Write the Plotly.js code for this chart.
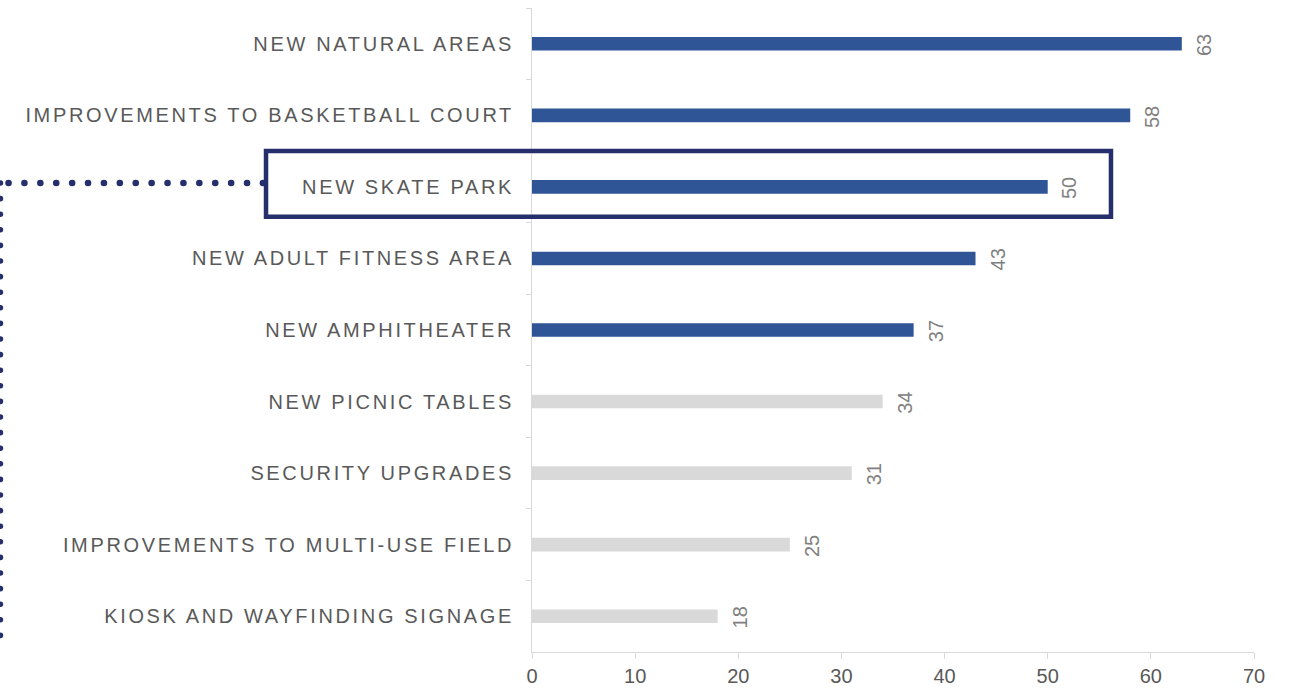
<!DOCTYPE html>
<html>
<head>
<meta charset="utf-8">
<script src="https://cdn.plot.ly/plotly-3.0.1.min.js"></script>
<style>
  html, body { margin: 0; padding: 0; background: #ffffff; }
  #chart { width: 1300px; height: 692px; }
  .ytick text { letter-spacing: 2.65px; }
  .shapelayer path { stroke-linecap: round; }
</style>
</head>
<body>
<div id="chart"></div>
<script>
const categories = [
  "NEW NATURAL AREAS",
  "IMPROVEMENTS TO BASKETBALL COURT",
  "NEW SKATE PARK",
  "NEW ADULT FITNESS AREA",
  "NEW AMPHITHEATER",
  "NEW PICNIC TABLES",
  "SECURITY UPGRADES",
  "IMPROVEMENTS TO MULTI-USE FIELD",
  "KIOSK AND WAYFINDING SIGNAGE"
];
const values = [63, 58, 50, 43, 37, 34, 31, 25, 18];
const highlighted = [true, true, true, true, true, false, false, false, false];
const xTickValues = [0, 10, 20, 30, 40, 50, 60, 70];

const BLUE = "#2f5597";
const GREY = "#d9d9d9";
const NAVY = "#252f6b";

const trace = {
  type: "bar",
  orientation: "h",
  x: values,
  y: categories,
  marker: { color: highlighted.map(h => h ? BLUE : GREY) },
  hoverinfo: "none"
};

const annotations = values.map((v, i) => ({
  x: v,
  y: categories[i],
  xref: "x",
  yref: "y",
  text: String(v),
  textangle: -90,
  showarrow: false,
  xanchor: "center",
  yanchor: "middle",
  xshift: 22,
  yshift: -1.5,
  font: { family: "Liberation Sans, Arial, sans-serif", size: 20, color: "#808080" }
}));

const layout = {
  width: 1300,
  height: 692,
  margin: { l: 532, r: 46, t: 8, b: 40 },
  paper_bgcolor: "#ffffff",
  plot_bgcolor: "#ffffff",
  showlegend: false,
  bargap: 0.81,
  font: { family: "Liberation Sans, Arial, sans-serif", color: "#595959" },
  xaxis: {
    range: [0, 70],
    tickvals: xTickValues,
    ticktext: xTickValues.map(String),
    showgrid: false,
    zeroline: false,
    showline: true,
    linecolor: "#d9d9d9",
    linewidth: 1,
    ticks: "outside",
    ticklen: 6,
    tickcolor: "#d9d9d9",
    tickfont: { size: 20, color: "#595959" },
    fixedrange: true
  },
  yaxis: {
    type: "category",
    categoryorder: "array",
    categoryarray: categories,
    autorange: "reversed",
    showgrid: false,
    zeroline: false,
    showline: true,
    linecolor: "#d9d9d9",
    linewidth: 1,
    ticks: "outside",
    tickson: "boundaries",
    ticklen: 5,
    tickcolor: "#d9d9d9",
    tickfont: { size: 20, color: "#595959" },
    ticklabelstandoff: 13,
    fixedrange: true
  },
  annotations: annotations,
  shapes: [
    {
      type: "rect",
      xref: "paper", yref: "paper",
      x0: -0.3684, x1: 0.8019,
      y0: 0.6759, y1: 0.7780,
      line: { color: NAVY, width: 4.5 },
      fillcolor: "rgba(0,0,0,0)"
    },
    {
      type: "line",
      xref: "paper", yref: "paper",
      x0: -0.3726, x1: -0.7362,
      y0: 0.7283, y1: 0.7283,
      line: { color: NAVY, width: 6.5, dash: "0.1px,15.8px" }
    },
    {
      type: "line",
      xref: "paper", yref: "paper",
      x0: -0.7362, x1: -0.7362,
      y0: 0.7283, y1: 0.0062,
      line: { color: NAVY, width: 5.5, dash: "0.1px,15.5px" }
    }
  ]
};

Plotly.newPlot("chart", [trace], layout, { displayModeBar: false, staticPlot: true });
</script>
</body>
</html>
